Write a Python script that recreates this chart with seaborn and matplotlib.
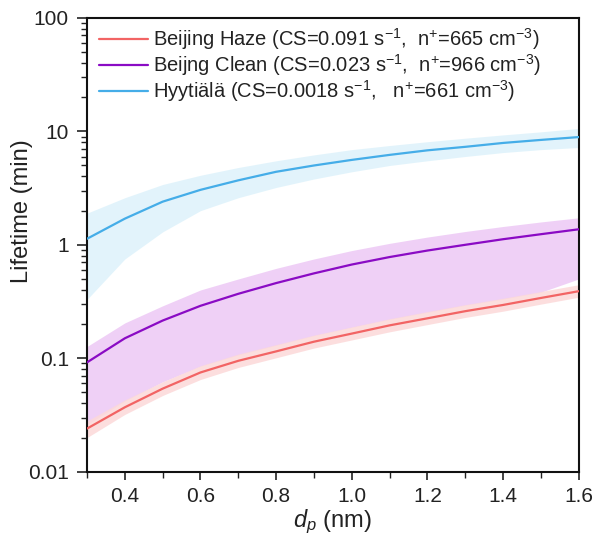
import numpy as np
import pandas as pd
import matplotlib
matplotlib.use("Agg")
import matplotlib.pyplot as plt
import seaborn as sns

# Particle diameter (nm)
dp = [0.3, 0.4, 0.5, 0.6, 0.7, 0.8, 0.9, 1.0, 1.1, 1.2, 1.3, 1.4, 1.5, 1.6]

# Lifetime (min): central estimate and lower/upper bounds
haze_mid = [0.024, 0.037, 0.054, 0.075, 0.095, 0.115, 0.14, 0.165, 0.195, 0.225, 0.26, 0.295, 0.34, 0.39]
haze_lo = [0.020, 0.032, 0.047, 0.065, 0.083, 0.101, 0.123, 0.145, 0.171, 0.198, 0.229, 0.260, 0.300, 0.345]
haze_hi = [0.028, 0.043, 0.062, 0.086, 0.109, 0.132, 0.160, 0.189, 0.223, 0.258, 0.297, 0.338, 0.388, 0.445]

clean_mid = [0.092, 0.15, 0.215, 0.29, 0.37, 0.46, 0.56, 0.67, 0.78, 0.89, 1.0, 1.12, 1.24, 1.37]
clean_lo = [0.026, 0.042, 0.062, 0.085, 0.107, 0.130, 0.158, 0.187, 0.220, 0.254, 0.293, 0.332, 0.382, 0.50]
clean_hi = [0.127, 0.205, 0.29, 0.40, 0.50, 0.62, 0.75, 0.89, 1.03, 1.17, 1.31, 1.45, 1.59, 1.73]

hyy_mid = [1.13, 1.7, 2.4, 3.05, 3.7, 4.4, 5.0, 5.6, 6.2, 6.8, 7.3, 7.9, 8.4, 8.9]
hyy_lo = [0.33, 0.75, 1.3, 2.0, 2.6, 3.2, 3.8, 4.4, 5.0, 5.5, 6.0, 6.5, 6.9, 7.2]
hyy_hi = [1.9, 2.6, 3.4, 4.1, 4.8, 5.5, 6.2, 6.9, 7.5, 8.1, 8.7, 9.3, 9.9, 10.6]

labels = [
    "Beijing Haze (CS=0.091 s$^{-1}$,  n$^{+}$=665 cm$^{-3}$)",
    "Beijng Clean (CS=0.023 s$^{-1}$,  n$^{+}$=966 cm$^{-3}$)",
    "Hyytiälä (CS=0.0018 s$^{-1}$,   n$^{+}$=661 cm$^{-3}$)",
]
line_colors = ["#F26464", "#8A0BC4", "#45ADE8"]
band_colors = ["#FCD9D9", "#EDC8F5", "#DDF2FB"]

mids = [haze_mid, clean_mid, hyy_mid]
los = [haze_lo, clean_lo, hyy_lo]
his = [haze_hi, clean_hi, hyy_hi]

df = pd.concat(
    [pd.DataFrame({"dp": dp, "lifetime": m, "site": lab}) for m, lab in zip(mids, labels)],
    ignore_index=True,
)

sns.set_theme(style="ticks")
plt.rcParams.update({
    "font.family": ["Liberation Sans", "DejaVu Sans"],
    "mathtext.fontset": "custom",
    "mathtext.rm": "Liberation Sans",
    "mathtext.it": "Liberation Sans:italic",
    "mathtext.bf": "Liberation Sans:bold",
})

fig = plt.figure(figsize=(5.96, 5.41), dpi=100)
ax = fig.add_axes([0.146, 0.128, 0.825, 0.839])

# Uncertainty bands, upper layers first so lower ranges stay visible
for lo, hi, c in zip(los[::-1], his[::-1], band_colors[::-1]):
    ax.fill_between(dp, lo, hi, color=c, alpha=0.85, lw=0, zorder=1)

sns.lineplot(data=df, x="dp", y="lifetime", hue="site", palette=line_colors,
             hue_order=labels, lw=1.6, ax=ax, zorder=3)

ax.set_yscale("log")
ax.set_ylim(0.01, 100)
ax.set_xlim(0.3, 1.6)
ax.set_xticks([0.4, 0.6, 0.8, 1.0, 1.2, 1.4, 1.6])
ax.set_xticklabels(["0.4", "0.6", "0.8", "1.0", "1.2", "1.4", "1.6"])
ax.xaxis.set_minor_locator(matplotlib.ticker.MultipleLocator(0.1))
ax.set_yticks([0.01, 0.1, 1, 10, 100])
ax.set_yticklabels(["0.01", "0.1", "1", "10", "100"])
ax.yaxis.set_minor_locator(matplotlib.ticker.LogLocator(base=10, subs=np.arange(2, 10)))
ax.yaxis.set_minor_formatter(matplotlib.ticker.NullFormatter())

ax.tick_params(axis="x", which="major", direction="out", length=6, width=1.2, pad=5,
               labelsize=15, color="#222222", labelcolor="#222222")
ax.tick_params(axis="y", which="major", direction="out", length=7, width=1.2, pad=6,
               labelsize=15, color="#222222", labelcolor="#222222")
ax.tick_params(axis="both", which="minor", direction="out", length=4, width=1.0, color="#222222")
for s in ax.spines.values():
    s.set_linewidth(1.5)
    s.set_color("#111111")

ax.set_xlabel("$d_p$ (nm)", fontsize=17, color="#222222")
ax.xaxis.set_label_coords(0.5, -0.078)
ax.set_ylabel("Lifetime (min)", fontsize=17, color="#222222")
ax.yaxis.set_label_coords(-0.11, 0.575)

leg = ax.legend(loc="upper left", frameon=False, fontsize=14.5, handlelength=2.45,
                handletextpad=0.25, labelspacing=0.0, borderaxespad=0.2,
                bbox_to_anchor=(0.0, 1.008))
for t in leg.get_texts():
    t.set_color("#222222")

fig.savefig("out.png", dpi=100)
